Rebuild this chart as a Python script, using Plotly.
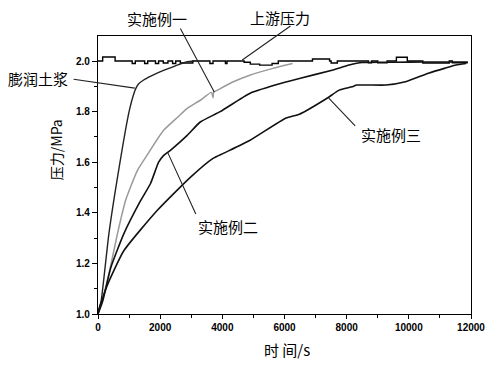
import plotly.graph_objects as go

# ---------------- data ----------------
up_t = [0, 150, 550, 1100, 1200, 1500, 1600, 1850, 1950, 2100, 2250, 2400, 2500, 2650, 3050,
        3600, 3700, 4100, 4150, 4700, 4900, 5200, 5600, 5800, 6900, 7450, 7500, 7700, 8700,
        8800, 9000, 9300, 9600, 9950, 10450, 11300, 11400, 11900]
up_p = [2.0, 2.016, 2.0, 1.99, 2.0, 1.99, 2.0, 1.99, 2.0, 1.992, 2.0, 1.99, 2.0, 1.992, 2.0,
        1.99, 2.0, 1.99, 2.0, 1.995, 1.988, 1.984, 1.99, 2.0, 2.008, 2.0, 1.992, 2.0, 1.993,
        2.0, 1.993, 2.0, 2.015, 2.0, 1.992, 2.0, 1.993, 1.993]

bent_t = [0, 100, 350, 680, 1000, 1150, 1230, 1310, 1470, 1700, 2010, 2300, 2550, 2870, 3100]
bent_p = [1.0, 1.05, 1.317, 1.58, 1.8, 1.87, 1.895, 1.91, 1.925, 1.94, 1.958, 1.972, 1.984, 1.997, 2.0]

ex1_t = [0, 130, 390, 630, 890, 1265, 1590, 2110, 2580, 2870, 3290, 3650, 3700, 3720, 3760, 4300, 4880, 5600, 6260]
ex1_p = [1.0, 1.05, 1.18, 1.32, 1.45, 1.567, 1.63, 1.726, 1.78, 1.813, 1.845, 1.876, 1.855, 1.878, 1.88, 1.915, 1.944, 1.97, 1.99]

ex2_t = [0, 150, 410, 830, 1370, 1690, 1950, 2100, 2330, 2870, 3290, 3930, 4880, 5700, 6480, 7530, 8080, 8500, 9500, 10500, 11900]
ex2_p = [1.0, 1.05, 1.183, 1.317, 1.448, 1.516, 1.60, 1.625, 1.647, 1.706, 1.759, 1.80, 1.872, 1.905, 1.931, 1.964, 1.984, 1.994, 1.995, 1.996, 1.996]

ex3_t = [0, 30, 320, 830, 1910, 2970, 3700, 4030, 4880, 6050, 6480, 7370, 7760, 8170, 8330, 9260, 9890, 10630, 11170, 11520, 11840]
ex3_p = [1.0, 1.02, 1.12, 1.25, 1.41, 1.54, 1.615, 1.635, 1.686, 1.775, 1.79, 1.853, 1.885, 1.898, 1.905, 1.905, 1.918, 1.952, 1.972, 1.984, 1.99]

x_ticks = [0, 2000, 4000, 6000, 8000, 10000, 12000]
y_ticks = [1.0, 1.2, 1.4, 1.6, 1.8, 2.0]

# label text, label centre (data units), leader tail (data), leader tip (data)
labels = ["实施例一", "上游压力", "膨润土浆", "实施例二", "实施例三"]
label_xy = [(1888, 2.169), (5856, 2.173), (-1936, 1.93), (4176, 1.347), (9424, 1.708)]
lead_tail = [(2624, 2.135), (6240, 2.143), (-832, 1.929), (3168, 1.389), (8320, 1.738)]
lead_tip = [(3744, 1.877), (4640, 2.004), (1184, 1.893), (2240, 1.639), (7424, 1.853)]

X_RANGE = [0, 12000]
Y_RANGE = [1.0, 2.099]

def to_paper(x, y):
    return ((x - X_RANGE[0]) / (X_RANGE[1] - X_RANGE[0]),
            (y - Y_RANGE[0]) / (Y_RANGE[1] - Y_RANGE[0]))

# ---------------- figure ----------------
fig = go.Figure()
fig.add_trace(go.Scatter(x=up_t, y=up_p, mode="lines", line=dict(color="black", width=1.4, shape="hv")))
fig.add_trace(go.Scatter(x=bent_t, y=bent_p, mode="lines", line=dict(color="#222", width=1.4, shape="spline", smoothing=0.5)))
fig.add_trace(go.Scatter(x=ex1_t, y=ex1_p, mode="lines", line=dict(color="#9a9a9a", width=1.5, shape="spline", smoothing=0.5)))
fig.add_trace(go.Scatter(x=ex2_t, y=ex2_p, mode="lines", line=dict(color="#111", width=1.6, shape="spline", smoothing=0.5)))
fig.add_trace(go.Scatter(x=ex3_t, y=ex3_p, mode="lines", line=dict(color="#111", width=1.6, shape="spline", smoothing=0.5)))

cjk = "Noto Sans CJK SC"
ann = []
for txt, (tx, ty), (ax0, ay0), (x1, y1) in zip(labels, label_xy, lead_tail, lead_tip):
    px, py = to_paper(tx, ty)
    ann.append(dict(x=px, y=py, xref="paper", yref="paper", text=txt, showarrow=False,
                    xanchor="center", yanchor="middle",
                    font=dict(family=cjk, size=15, color="black")))
    ann.append(dict(x=x1, y=y1, xref="x", yref="y", ax=ax0, ay=ay0, axref="x", ayref="y",
                    text="", showarrow=True, arrowhead=0, arrowwidth=1.1, arrowcolor="#222",
                    standoff=0, startstandoff=0))

ann.append(dict(x=0.507, y=-0.126, xref="paper", yref="paper", text="时 间/s", showarrow=False,
                yanchor="middle", font=dict(family=cjk, size=15, color="black")))
ann.append(dict(x=-0.112, y=0.59, xref="paper", yref="paper", text="压力/MPa", showarrow=False,
                textangle=-90, xanchor="center", yanchor="middle",
                font=dict(family=cjk, size=14, color="black")))

axis_common = dict(showline=True, linecolor="black", linewidth=1.3, mirror=True, ticks="outside",
                   tickcolor="black", showgrid=False, zeroline=False,
                   tickfont=dict(family="Liberation Sans", size=10, color="black", weight="bold"))

fig.update_layout(
    width=497, height=365,
    margin=dict(l=98, r=24, t=36, b=51),
    paper_bgcolor="white", plot_bgcolor="white",
    showlegend=False,
    xaxis=dict(range=X_RANGE, tickvals=x_ticks, ticktext=[str(v) for v in x_ticks], ticklen=4,
               minor=dict(dtick=1000, tick0=0, ticks="outside", ticklen=3, tickcolor="black"),
               **axis_common),
    yaxis=dict(range=Y_RANGE, tickvals=y_ticks, ticktext=[f"{v:.1f}" for v in y_ticks], ticklen=5,
               minor=dict(dtick=0.1, tick0=1.0, ticks="outside", ticklen=3, tickcolor="black"),
               **axis_common),
    annotations=ann,
)

fig.write_html("out.html", config={"displayModeBar": False},
               post_script="document.body.style.margin='0';document.body.style.overflow='hidden';")
